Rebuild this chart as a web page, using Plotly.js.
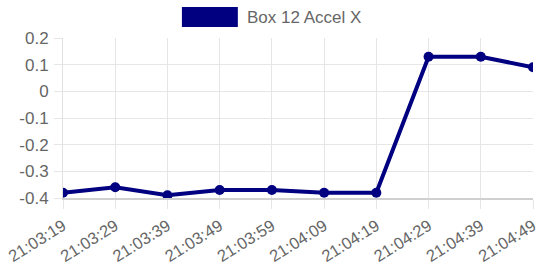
<!DOCTYPE html>
<html>
<head>
<meta charset="utf-8">
<script src="https://cdn.plot.ly/plotly-3.0.1.min.js"></script>
<style>html,body{margin:0;padding:0;background:#fff;}#chart{width:540px;height:264px;}</style>
</head>
<body>
<div id="chart"></div>
<script>
var times = ["21:03:19","21:03:29","21:03:39","21:03:49","21:03:59","21:04:09","21:04:19","21:04:29","21:04:39","21:04:49"];
var accelX = [-0.38, -0.36, -0.39, -0.37, -0.37, -0.38, -0.38, 0.13, 0.13, 0.09];
var seriesName = "Box 12 Accel X";
var yTickVals = [-0.4, -0.3, -0.2, -0.1, 0, 0.1, 0.2];
var yTickText = ["-0.4", "-0.3", "-0.2", "-0.1", "0", "0.1", "0.2"];

var fontFam = "Liberation Sans, Arial, sans-serif";
var trace = {
  x: times, y: accelX, type: "scatter", mode: "lines+markers",
  name: seriesName,
  line: {color: "#000080", width: 4},
  marker: {color: "#000080", size: 10},
  showlegend: false
};
var layout = {
  width: 540, height: 264,
  margin: {l: 63, r: 7, t: 38, b: 66},
  paper_bgcolor: "#fff", plot_bgcolor: "#fff",
  font: {family: fontFam, size: 16, color: "#666"},
  xaxis: {
    type: "category", range: [0, times.length - 1],
    tickangle: -32, showgrid: true, gridcolor: "#e6e6e6", gridwidth: 1,
    ticks: "outside", ticklen: 9, tickcolor: "#e6e6e6",
    ticklabelstandoff: 1, ticklabelshift: 0,
    showline: true, linecolor: "#d0d0d0", linewidth: 2,
    zeroline: false, tickfont: {size: 16.5, color: "#666"}
  },
  yaxis: {
    range: [-0.4, 0.2], tickvals: yTickVals, ticktext: yTickText,
    showgrid: true, gridcolor: "#e6e6e6", gridwidth: 1,
    ticks: "outside", ticklen: 8, tickcolor: "#e6e6e6",
    ticklabelstandoff: 2,
    showline: true, linecolor: "#e0e0e0", linewidth: 1,
    zeroline: false, tickfont: {size: 17, color: "#666"}
  },
  shapes: [{
    type: "rect", xref: "paper", yref: "paper",
    x0: 0.253, x1: 0.372, y0: 1.069, y1: 1.194,
    fillcolor: "#000080", line: {width: 0}
  }],
  annotations: [{
    text: seriesName, xref: "paper", yref: "paper",
    x: 0.387, y: 1.131, xanchor: "left", yanchor: "middle",
    showarrow: false, font: {family: fontFam, size: 17, color: "#666"}
  }]
};
Plotly.newPlot("chart", [trace], layout, {displayModeBar: false, staticPlot: true});
</script>
</body>
</html>
